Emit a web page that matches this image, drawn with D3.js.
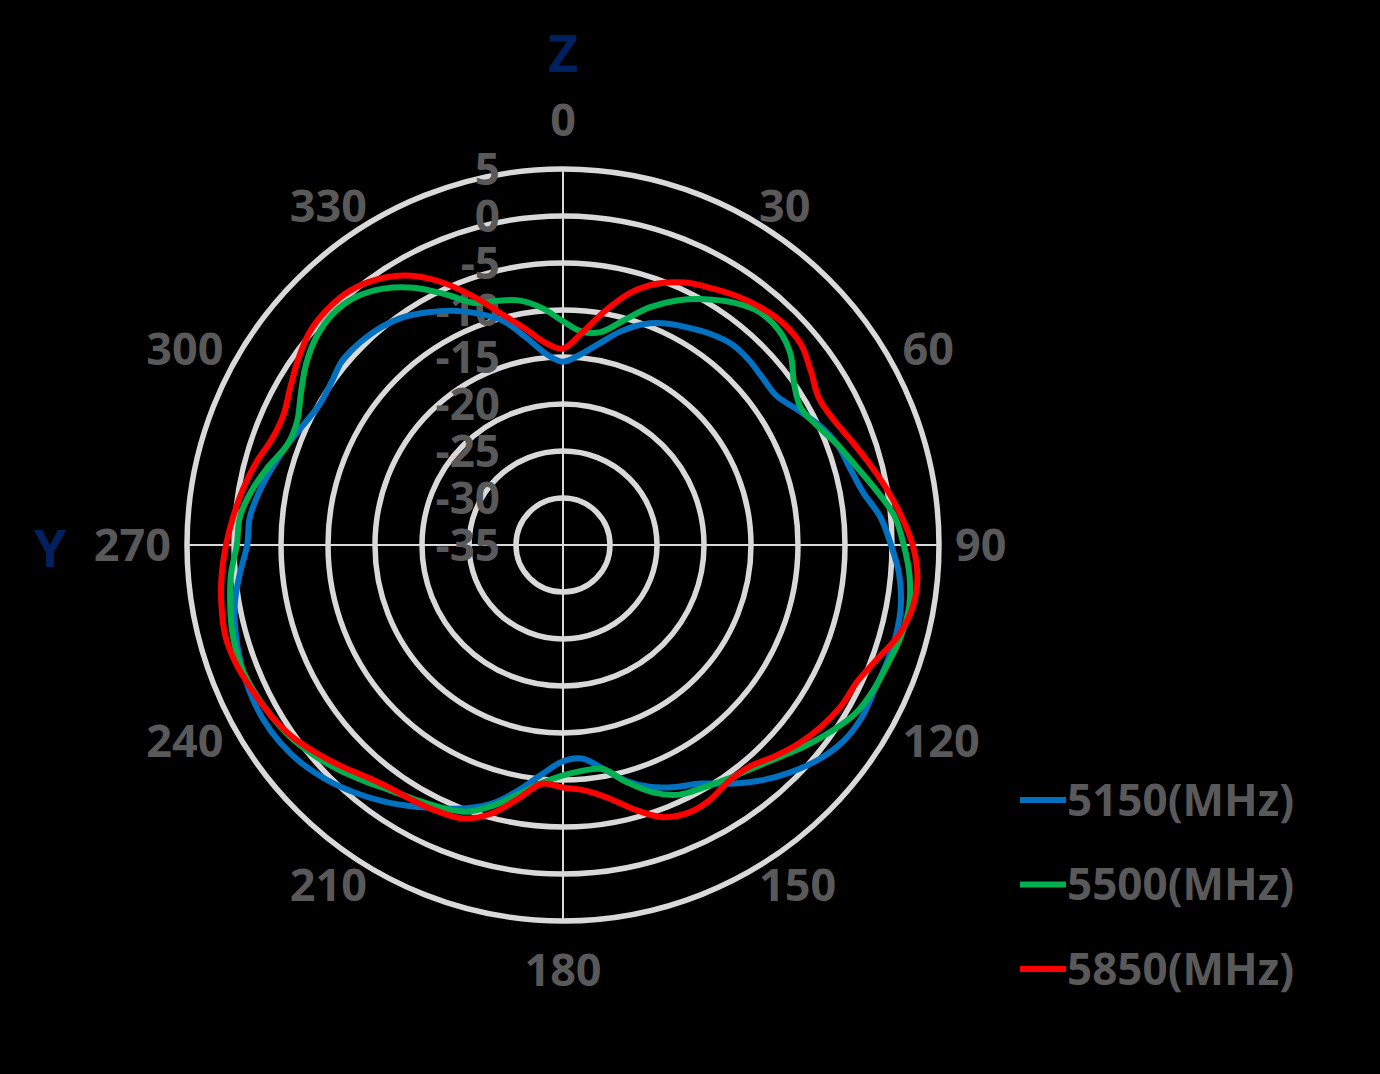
<!DOCTYPE html>
<html><head><meta charset="utf-8">
<script src="https://cdn.jsdelivr.net/npm/d3@7"></script>
<style>html,body{margin:0;padding:0;background:#000;} svg{display:block;}</style>
</head><body>
<svg id="chart" width="1380" height="1074"></svg>
<script>
// ---- data ----
const angles = [0,5,10,15,20,25,30,35,40,45,50,55,60,65,70,75,80,85,90,95,100,105,110,115,120,125,130,135,140,145,150,155,160,165,170,175,180,185,190,195,200,205,210,215,220,225,230,235,240,245,250,255,260,265,270,275,280,285,290,295,300,305,310,315,320,325,330,335,340,345,350,355];
const s5150 = [-15.5,-14.7,-13.3,-11.5,-10.0,-9.0,-8.3,-7.6,-7.1,-7.1,-7.3,-7.3,-6.2,-4.9,-3.9,-3.4,-2.6,-1.1,-0.1,0.9,1.5,1.7,1.65,1.55,1.7,1.4,0.5,-0.8,-2.3,-4.0,-5.7,-6.6,-7.6,-9.0,-10.9,-12.2,-12.0,-10.6,-8.6,-6.6,-5.2,-4.1,-2.9,-1.7,-0.6,0.4,1.2,1.7,1.9,1.8,1.5,1.05,0.45,-0.5,-1.4,-1.55,-2.2,-3.0,-3.8,-4.6,-5.1,-4.9,-4.4,-4.5,-4.8,-5.4,-6.4,-7.5,-8.8,-10.3,-12.6,-14.6];
const s5500 = [-11.2,-12.2,-12.0,-10.3,-8.1,-6.3,-4.8,-3.5,-2.6,-2.6,-3.4,-5.0,-5.8,-5.1,-3.9,-2.7,-1.2,0.4,1.25,2.0,2.4,2.25,1.8,1.45,0.9,-0.3,-1.6,-2.9,-3.9,-4.6,-5.2,-5.7,-7.0,-8.9,-10.8,-10.9,-10.5,-9.6,-8.1,-6.3,-4.8,-4.2,-3.7,-3.1,-2.2,-1.2,-0.3,0.5,1.0,1.4,1.6,1.4,0.95,0.45,-0.3,-0.5,-1.4,-2.6,-3.8,-3.8,-2.8,-1.6,-0.7,-0.3,-0.6,-1.7,-3.4,-5.6,-7.6,-8.1,-8.6,-9.7];
const s5850 = [-14.1,-12.4,-9.8,-7.2,-5.4,-4.2,-3.45,-2.7,-2.1,-1.75,-1.9,-2.8,-3.6,-3.3,-2.4,-1.3,-0.1,1.1,2.2,2.85,2.8,2.0,0.55,-0.5,-0.8,-1.4,-2.2,-3.2,-4.2,-4.3,-3.7,-3.55,-4.2,-5.9,-7.7,-8.8,-9.2,-9.5,-7.6,-5.4,-4.05,-3.7,-3.5,-3.3,-2.7,-1.7,-0.65,0.35,1.0,1.5,2.0,2.2,1.9,1.45,0.85,0.2,-0.45,-1.2,-2.05,-2.2,-1.5,-0.6,0.2,0.45,0.3,-0.5,-1.9,-4.1,-6.8,-9.5,-11.6,-13.4];
const seriesNames = ["5150(MHz)","5500(MHz)","5850(MHz)"];
const seriesColors = ["#0070C0","#00B050","#FF0000"];
const radialTicks = [-35,-30,-25,-20,-15,-10,-5,0,5];
const angleTicks = [0,30,60,90,120,150,180,210,240,270,300,330];
const titleTop = "Z";
const titleLeft = "Y";

// ---- layout ----
const W = 1380, H = 1074;
const cx = 563, cy = 545, R = 376;
const font = "'Open Sans', 'Liberation Sans', sans-serif";
const gray = "#595959";
const gridColor = "#d9d9d9";

const svg = d3.select("#chart");
svg.append("rect").attr("width", W).attr("height", H).attr("fill", "#000");

const r = d3.scaleLinear().domain([-35, 5]).range([0, R]);
const g = svg.append("g").attr("transform", `translate(${cx},${cy})`);

// grid circles
g.selectAll("circle.grid").data(radialTicks.filter(v => v > -35)).join("circle")
  .attr("class", "grid").attr("r", d => r(d))
  .attr("fill", "none").attr("stroke", gridColor).attr("stroke-width", 5.5);

// axis lines (0/90/180/270)
[0, 90].forEach(a => {
  const t = a * Math.PI / 180;
  g.append("line")
    .attr("x1", -R * Math.sin(t)).attr("y1", R * Math.cos(t))
    .attr("x2", R * Math.sin(t)).attr("y2", -R * Math.cos(t))
    .attr("stroke", gridColor).attr("stroke-width", 2);
});

// radial value labels
g.selectAll("text.rt").data(radialTicks).join("text")
  .attr("class", "rt")
  .attr("x", -63).attr("y", d => -r(d)).attr("dy", "0.36em")
  .attr("text-anchor", "end")
  .attr("font-family", font).attr("font-weight", "bold").attr("font-size", 44)
  .attr("fill", gray).text(d => d);

// angle labels
const LR = 392;
g.selectAll("text.at").data(angleTicks).join("text")
  .attr("class", "at")
  .each(function(a) {
    const t = a * Math.PI / 180, s = Math.sin(t), c = Math.cos(t);
    const axial = Math.abs(s) < 1e-6;
    const x = LR * s;
    const y = -LR * c + (axial ? -Math.sign(c) * 33 : 0);
    d3.select(this).attr("x", x).attr("y", y).attr("dy", "0.36em")
      .attr("text-anchor", axial ? "middle" : (s > 0 ? "start" : "end"));
  })
  .attr("font-family", font).attr("font-weight", "bold").attr("font-size", 45)
  .attr("fill", gray).text(d => d);

// series
const allSeries = [s5150, s5500, s5850];
const line = d3.lineRadial()
  .angle((d, i) => angles[i] * Math.PI / 180)
  .radius(d => r(d))
  .curve(d3.curveCatmullRomClosed.alpha(0.5));
g.selectAll("path.series").data(allSeries).join("path")
  .attr("class", "series")
  .attr("d", d => line(d))
  .attr("fill", "none")
  .attr("stroke", (d, i) => seriesColors[i])
  .attr("stroke-width", 6)
  .attr("stroke-linejoin", "round");

// axis titles
svg.append("text").attr("x", cx).attr("y", cy - 492).attr("dy", "0.36em")
  .attr("text-anchor", "middle")
  .attr("font-family", font).attr("font-weight", "bold").attr("font-size", 52)
  .attr("fill", "#002060").text(titleTop);
svg.append("text").attr("x", cx - 513).attr("y", cy + 3).attr("dy", "0.36em")
  .attr("text-anchor", "middle")
  .attr("font-family", font).attr("font-weight", "bold").attr("font-size", 52)
  .attr("fill", "#002060").text(titleLeft);

// legend
const legY = d3.scalePoint().domain(seriesNames).range([800, 969]);
const leg = svg.append("g");
seriesNames.forEach((name, i) => {
  leg.append("line").attr("x1", 1020).attr("x2", 1066)
    .attr("y1", legY(name)).attr("y2", legY(name))
    .attr("stroke", seriesColors[i]).attr("stroke-width", 6);
  leg.append("text").attr("x", 1067).attr("y", legY(name)).attr("dy", "0.36em")
    .attr("font-family", font).attr("font-weight", "bold").attr("font-size", 44)
    .attr("fill", gray).text(name);
});
</script>
</body></html>
